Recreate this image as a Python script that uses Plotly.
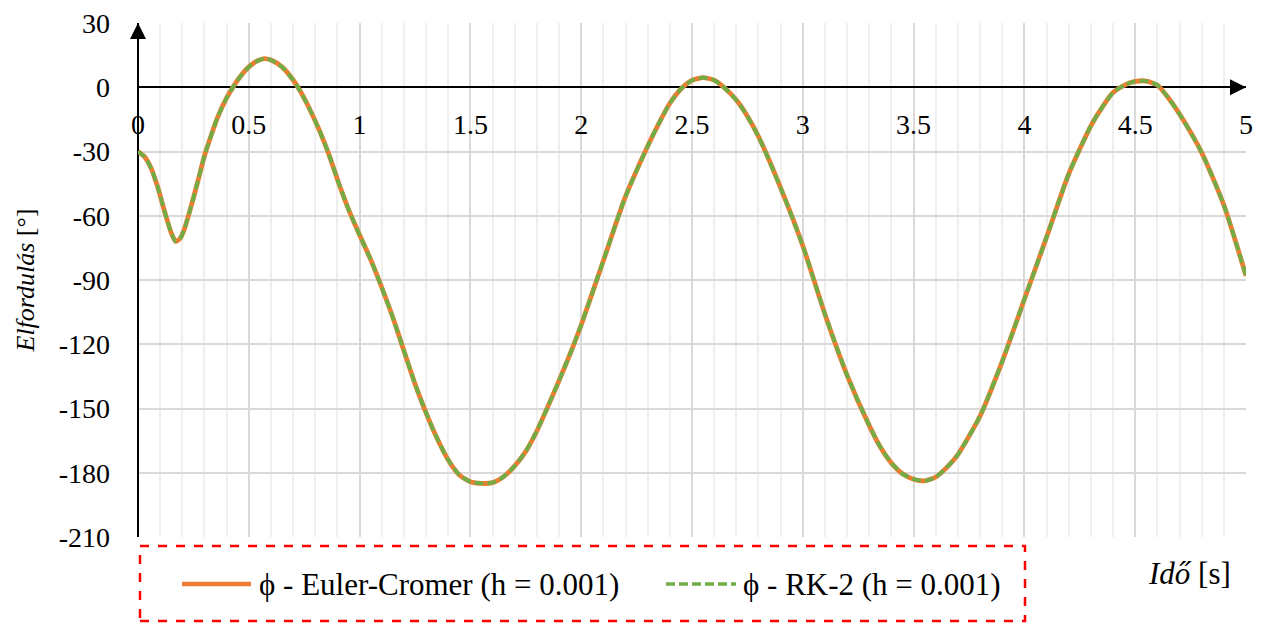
import plotly.graph_objects as go

# ---- data ----
time_s = [0, 0.03, 0.06, 0.09, 0.12, 0.15, 0.17, 0.19, 0.21, 0.24, 0.27, 0.30, 0.33, 0.36,
          0.40, 0.43, 0.46, 0.50, 0.54, 0.57, 0.60, 0.65, 0.70, 0.73, 0.77, 0.82, 0.86,
          0.91, 0.95, 1.00, 1.05, 1.10, 1.15, 1.20, 1.25, 1.30, 1.35, 1.40, 1.45, 1.50,
          1.55, 1.60, 1.65, 1.70, 1.75, 1.80, 1.85, 1.90, 1.95, 2.00, 2.10, 2.20, 2.30,
          2.35, 2.40, 2.45, 2.50, 2.55, 2.60, 2.65, 2.70, 2.75, 2.80, 2.90, 3.00, 3.10, 3.20,
          3.30, 3.35, 3.40, 3.45, 3.50, 3.55, 3.60, 3.65, 3.70, 3.80, 3.90, 4.00, 4.10, 4.20,
          4.30, 4.35, 4.40, 4.45, 4.50, 4.55, 4.60, 4.65, 4.70, 4.80, 4.90, 5.00]

phi_euler_cromer = [-30, -32.5, -38, -47, -58, -68, -72, -70.6, -66, -55.5, -44, -32, -22.5, -13.8,
                    -5, 0.3, 4.8, 9.5, 12.4, 13.4, 12.7, 9.5, 3.4, -1.4, -9.2, -20.5, -31,
                    -46, -57, -69, -80.5, -93.5, -107.5, -123, -138.5, -152, -164, -174, -181, -184.2,
                    -185, -184.6, -181.8, -176.8, -170, -160.5, -149, -137, -124.5, -111, -81, -51, -27.5,
                    -17, -7.5, -0.8, 3.2, 4.5, 3.3, -0.6, -6, -13.5, -23, -47, -74, -106, -134.5,
                    -158, -168, -175.5, -180.5, -183, -183.8, -182, -177.5, -171.5, -153.5, -128, -99, -70, -40.5,
                    -18, -9.5, -2.5, 0.9, 2.7, 2.9, 1.0, -5, -12.5, -30.5, -55, -88]

phi_rk2 = list(phi_euler_cromer)

x_tick_vals = [0, 0.5, 1, 1.5, 2, 2.5, 3, 3.5, 4, 4.5, 5]
x_tick_text = ["0", "0.5", "1", "1.5", "2", "2.5", "3", "3.5", "4", "4.5", "5"]
y_tick_vals = [30, 0, -30, -60, -90, -120, -150, -180, -210]
y_tick_text = ["30", "0", "-30", "-60", "-90", "-120", "-150", "-180", "-210"]

names = ["ϕ - Euler-Cromer (h = 0.001)", "ϕ - RK-2 (h = 0.001)"]

ORANGE = "#ED7D31"
GREEN = "#70AD47"
FONT = "Liberation Serif"

fig = go.Figure()
fig.add_trace(go.Scatter(x=time_s, y=phi_euler_cromer, mode="lines", name=names[0],
                         line=dict(color=ORANGE, width=4.8, shape="spline", smoothing=0.6)))
fig.add_trace(go.Scatter(x=time_s, y=phi_rk2, mode="lines", name=names[1],
                         line=dict(color=GREEN, width=3.8, dash="9px,4px", shape="spline", smoothing=0.6)))

# page has an 8px body margin; figure sized so that it fits the 1263x624 window
OFF = 8
W, H = 1255, 616
ML, MR, MT, MB = 130, 17, 15, 87
PW, PH = W - ML - MR, H - MT - MB
Y_MIN, Y_MAX = -210, 30


def px_x(p):
    return (p - OFF - ML) / PW


def px_y(p):
    return (H - MB - (p - OFF)) / PH


zero_pos = (0 - Y_MIN) / (Y_MAX - Y_MIN)

fig.update_layout(
    width=W, height=H,
    margin=dict(l=ML, r=MR, t=MT, b=MB, pad=0, autoexpand=False),
    paper_bgcolor="white", plot_bgcolor="white",
    showlegend=False,
    font=dict(family=FONT, size=28, color="black"),
)

fig.update_xaxes(
    range=[0, 5], tickvals=x_tick_vals, ticktext=x_tick_text,
    anchor="free", position=zero_pos, showline=False, ticks="",
    ticklabelstandoff=18, automargin=False, ticklabeloverflow="allow",
    showgrid=True, gridcolor="#d9d9d9", gridwidth=1.5,
    minor=dict(dtick=0.1, showgrid=True, gridcolor="#efefef", gridwidth=1.5),
    zeroline=True, zerolinecolor="black", zerolinewidth=2,
    tickfont=dict(family=FONT, size=28),
)
fig.update_yaxes(
    range=[Y_MIN, Y_MAX], tickvals=y_tick_vals, ticktext=y_tick_text, showline=False, ticks="",
    ticklabelstandoff=27, automargin=False, ticklabeloverflow="allow",
    showgrid=True, gridcolor="#d9d9d9", gridwidth=1.5,
    zeroline=True, zerolinecolor="black", zerolinewidth=2,
    tickfont=dict(family=FONT, size=28),
    title=dict(text="<i>Elfordulás</i> [°]", font=dict(family=FONT, size=26), standoff=16),
)

# axis arrow heads (paper-referenced so they are not clipped)
fig.add_shape(type="path", xref="paper", yref="paper", xsizemode="pixel", ysizemode="pixel",
              xanchor=1, yanchor=zero_pos, path="M 0,0 L -16,8 L -16,-8 Z",
              fillcolor="black", line=dict(color="black", width=0))
fig.add_shape(type="path", xref="paper", yref="paper", xsizemode="pixel", ysizemode="pixel",
              xanchor=0, yanchor=1, path="M 0,0 L -8,-16 L 8,-16 Z",
              fillcolor="black", line=dict(color="black", width=0))

# custom legend (dashed red frame)
fig.add_shape(type="rect", xref="paper", yref="paper",
              x0=px_x(140), x1=px_x(1025), y0=px_y(621), y1=px_y(546),
              line=dict(color="#FF0000", width=2.5, dash="dash"), fillcolor="rgba(0,0,0,0)")
fig.add_shape(type="line", xref="paper", yref="paper",
              x0=px_x(182), x1=px_x(251), y0=px_y(584), y1=px_y(584),
              line=dict(color=ORANGE, width=4.5))
fig.add_shape(type="line", xref="paper", yref="paper",
              x0=px_x(666), x1=px_x(736), y0=px_y(584), y1=px_y(584),
              line=dict(color=GREEN, width=3.5, dash="9px,4px"))
fig.add_annotation(xref="paper", yref="paper", x=px_x(257), y=px_y(584), text=names[0],
                   showarrow=False, xanchor="left", yanchor="middle",
                   font=dict(family=FONT, size=31))
fig.add_annotation(xref="paper", yref="paper", x=px_x(741), y=px_y(584), text=names[1],
                   showarrow=False, xanchor="left", yanchor="middle",
                   font=dict(family=FONT, size=31))

# x-axis title
fig.add_annotation(xref="paper", yref="paper", x=px_x(1189), y=px_y(573), text="<i>Idő</i> [s]",
                   showarrow=False, xanchor="center", yanchor="middle",
                   font=dict(family=FONT, size=31))

fig.write_html("out.html")
